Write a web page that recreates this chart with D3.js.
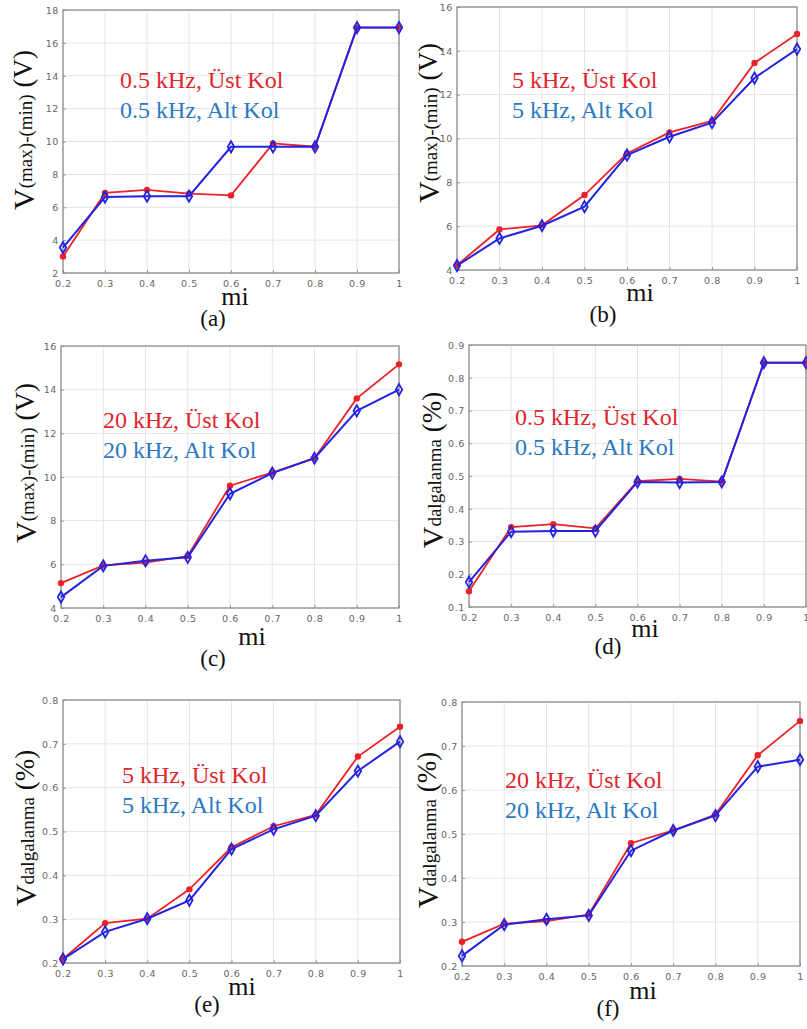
<!DOCTYPE html>
<html><head><meta charset="utf-8">
<script src="https://cdn.jsdelivr.net/npm/d3@7"></script>
<style>
html,body{margin:0;padding:0;background:#fff;}
svg{display:block;}
.serif{font-family:"Liberation Serif","Times New Roman",Times,serif;}
.tickf{font-family:"DejaVu Sans",sans-serif;}
</style></head>
<body>
<script>
// ---- data ----
const mi = [0.2,0.3,0.4,0.5,0.6,0.7,0.8,0.9,1.0];
const xTicks = [0.2,0.3,0.4,0.5,0.6,0.7,0.8,0.9,1.0];

const vpp05Ust = [3.0,6.87,7.06,6.83,6.72,9.88,9.68,16.93,16.93];
const vpp05Alt = [3.55,6.62,6.67,6.67,9.68,9.68,9.68,16.93,16.93];
const vpp5Ust  = [4.22,5.85,6.04,7.42,9.32,10.28,10.8,13.45,14.77];
const vpp5Alt  = [4.2,5.44,6.02,6.89,9.24,10.08,10.72,12.76,14.08];
const vpp20Ust = [5.14,5.95,6.08,6.38,9.6,10.2,10.86,13.6,15.16];
const vpp20Alt = [4.5,5.93,6.16,6.32,9.23,10.18,10.86,13.03,14.0];
const rip05Ust = [0.148,0.344,0.353,0.34,0.484,0.491,0.483,0.846,0.846];
const rip05Alt = [0.176,0.33,0.332,0.332,0.482,0.48,0.482,0.846,0.846];
const rip5Ust  = [0.209,0.291,0.301,0.368,0.464,0.512,0.538,0.671,0.739];
const rip5Alt  = [0.209,0.271,0.301,0.343,0.46,0.505,0.536,0.638,0.705];
const rip20Ust = [0.255,0.296,0.302,0.317,0.479,0.508,0.544,0.679,0.757];
const rip20Alt = [0.223,0.294,0.306,0.315,0.462,0.508,0.542,0.653,0.669];

const yTicksVpp18 = [2,4,6,8,10,12,14,16,18];
const yTicksVpp16 = [4,6,8,10,12,14,16];
const yTicksRip09 = [0.1,0.2,0.3,0.4,0.5,0.6,0.7,0.8,0.9];
const yTicksRip08 = [0.2,0.3,0.4,0.5,0.6,0.7,0.8];

const legendUst = ["0.5 kHz, Üst Kol","5 kHz, Üst Kol","20 kHz, Üst Kol","0.5 kHz, Üst Kol","5 kHz, Üst Kol","20 kHz, Üst Kol"];
const legendAlt = ["0.5 kHz, Alt Kol","5 kHz, Alt Kol","20 kHz, Alt Kol","0.5 kHz, Alt Kol","5 kHz, Alt Kol","20 kHz, Alt Kol"];
const panelLabels = ["(a)","(b)","(c)","(d)","(e)","(f)"];

// ---- layout ----
const panels = [
  {ust:vpp05Ust, alt:vpp05Alt, yt:yTicksVpp18, kind:"vpp", x0:63, x1:399, y0:10, y1:273, ttl:[23,130], leg:[120,88], mi:[235,305], lab:[213,326]},
  {ust:vpp5Ust,  alt:vpp5Alt,  yt:yTicksVpp16, kind:"vpp", x0:457, x1:797, y0:7, y1:270, ttl:[428,123], leg:[512,88], mi:[640,301], lab:[603,322]},
  {ust:vpp20Ust, alt:vpp20Alt, yt:yTicksVpp16, kind:"vpp", x0:61, x1:399, y0:346, y1:608, ttl:[25,463], leg:[103,428], mi:[252,645], lab:[213,666]},
  {ust:rip05Ust, alt:rip05Alt, yt:yTicksRip09, kind:"rip", x0:469, x1:806, y0:345, y1:607, ttl:[432,470], leg:[515,425], mi:[645,637], lab:[608,654]},
  {ust:rip5Ust,  alt:rip5Alt,  yt:yTicksRip08, kind:"rip", x0:63, x1:400, y0:700, y1:963, ttl:[25,828], leg:[122,783], mi:[242,995], lab:[207,1012]},
  {ust:rip20Ust, alt:rip20Alt, yt:yTicksRip08, kind:"rip", x0:462, x1:800, y0:702, y1:966, ttl:[427,830], leg:[505,788], mi:[643,999], lab:[608,1016]}
];

const W = 807, H = 1029;
const svg = d3.select("body").append("svg").attr("width", W).attr("height", H);
const red = "#ec2227", blue = "#2323e0";

panels.forEach((p, i) => {
  const x = d3.scaleLinear().domain([0.2, 1.0]).range([p.x0, p.x1]);
  const y = d3.scaleLinear().domain([p.yt[0], p.yt[p.yt.length-1]]).range([p.y1, p.y0]);
  const g = svg.append("g");

  // grid
  g.append("g").selectAll("line").data(xTicks).join("line")
    .attr("x1", d => x(d)).attr("x2", d => x(d)).attr("y1", p.y0).attr("y2", p.y1)
    .attr("stroke", "#e4e4e4").attr("stroke-width", 1);
  g.append("g").selectAll("line").data(p.yt).join("line")
    .attr("y1", d => y(d)).attr("y2", d => y(d)).attr("x1", p.x0).attr("x2", p.x1)
    .attr("stroke", "#e4e4e4").attr("stroke-width", 1);

  // axes
  const fmt = d => (p.kind === "rip" ? d3.format(".1f")(d) : String(d));
  const ax = g.append("g").attr("transform", `translate(0,${p.y1})`)
    .call(d3.axisBottom(x).tickValues(xTicks).tickSize(-3).tickPadding(5)
      .tickFormat(d => d === 1 ? "1" : d3.format(".1f")(d)));
  const ay = g.append("g").attr("transform", `translate(${p.x0},0)`)
    .call(d3.axisLeft(y).tickValues(p.yt).tickSize(-3).tickPadding(4).tickFormat(fmt));
  [ax, ay].forEach(a => {
    a.attr("font-family", null).attr("font-size", null);
    a.select(".domain").remove();
    a.selectAll(".tick line").attr("stroke", "#999");
    a.selectAll(".tick text").attr("class", "tickf").attr("fill", "#666")
      .attr("font-size", 9.5).attr("letter-spacing", 0.6);
  });
  ax.selectAll(".tick text").attr("dy", "0.9em");
  ay.selectAll(".tick text").attr("dy", "0.35em");

  g.append("rect").attr("x", p.x0).attr("y", p.y0).attr("width", p.x1 - p.x0).attr("height", p.y1 - p.y0)
    .attr("fill", "none").attr("stroke", "#8e8e8e").attr("stroke-width", 1.3);

  // lines
  const line = d3.line().x((d, k) => x(mi[k])).y(d => y(d));
  g.append("path").datum(p.ust).attr("d", line).attr("fill", "none").attr("stroke", red).attr("stroke-width", 1.8);
  g.append("g").selectAll("circle").data(p.ust).join("circle")
    .attr("cx", (d, k) => x(mi[k])).attr("cy", d => y(d)).attr("r", 3.2).attr("fill", red);
  g.append("path").datum(p.alt).attr("d", line).attr("fill", "none").attr("stroke", blue).attr("stroke-width", 2);
  const dia = d3.symbol().type(d3.symbolDiamond).size(36);
  g.append("g").selectAll("path").data(p.alt).join("path")
    .attr("transform", (d, k) => `translate(${x(mi[k])},${y(d)})`)
    .attr("d", dia).attr("fill", "none").attr("stroke", blue).attr("stroke-width", 1.8);

  // legend text
  g.append("text").attr("class", "serif").attr("x", p.leg[0]).attr("y", p.leg[1]).attr("font-size", 24)
    .attr("fill", "#e0262d").text(legendUst[i]);
  g.append("text").attr("class", "serif").attr("x", p.leg[0]).attr("y", p.leg[1] + 30).attr("font-size", 24)
    .attr("fill", "#2b79c2").text(legendAlt[i]);

  // y title
  const t = g.append("text").attr("class", "serif").attr("transform", `translate(${p.ttl[0]},${p.ttl[1]}) rotate(-90)`)
    .attr("text-anchor", "middle").attr("dominant-baseline", "central").attr("fill", "#111");
  if (p.kind === "vpp") {
    t.append("tspan").attr("font-size", 30).text("V");
    t.append("tspan").attr("font-size", 19).attr("dy", 2).text("(max)-(min)");
    t.append("tspan").attr("font-size", 27).attr("dy", -2).text(" (V)");
  } else {
    t.append("tspan").attr("font-size", 30).text("V");
    t.append("tspan").attr("font-size", 19).attr("dy", 2).text("dalgalanma");
    t.append("tspan").attr("font-size", 27).attr("dy", -2).text(" (%)");
  }

  // x title & panel label
  g.append("text").attr("class", "serif").attr("x", p.mi[0]).attr("y", p.mi[1]).attr("text-anchor", "middle")
    .attr("font-size", 26).attr("fill", "#111").text("mi");
  g.append("text").attr("class", "serif").attr("x", p.lab[0]).attr("y", p.lab[1]).attr("text-anchor", "middle")
    .attr("font-size", 23).attr("fill", "#111").text(panelLabels[i]);
});
</script>
</body></html>
